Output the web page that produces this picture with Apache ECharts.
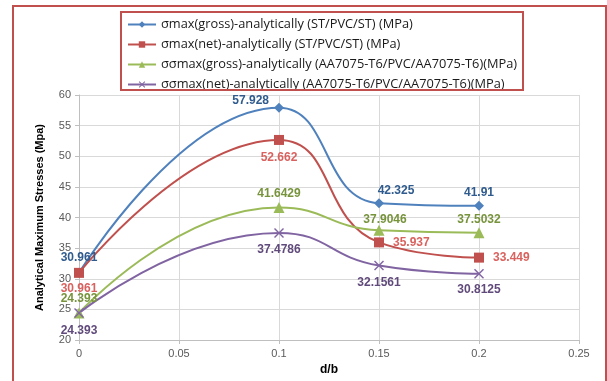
<!DOCTYPE html>
<html><head><meta charset="utf-8">
<script src="https://cdn.jsdelivr.net/npm/echarts@6/dist/echarts.min.js"></script>
<style>html,body{margin:0;padding:0;background:#fff}#c{width:607px;height:381px}</style>
</head><body><div id="c"></div>
<script>
const xValues = [0, 0.1, 0.15, 0.2];
const seriesNames = [
  'σmax(gross)-analytically (ST/PVC/ST) (MPa)',
  'σmax(net)-analytically (ST/PVC/ST) (MPa)',
  'σσmax(gross)-analytically (AA7075-T6/PVC/AA7075-T6)(MPa)',
  'σσmax(net)-analytically (AA7075-T6/PVC/AA7075-T6)(MPa)'
];
const grossST = [30.961, 57.928, 42.325, 41.91];
const netST = [30.961, 52.662, 35.937, 33.449];
const grossAA = [24.393, 41.6429, 37.9046, 37.5032];
const netAA = [24.393, 37.4786, 32.1561, 30.8125];
const labelTexts = [
  ['30.961', '57.928', '42.325', '41.91'],
  ['30.961', '52.662', '35.937', '33.449'],
  ['24.393', '41.6429', '37.9046', '37.5032'],
  ['24.393', '37.4786', '32.1561', '30.8125']
];
const yTicks = {min: 20, max: 60, interval: 5};
const xTicks = {min: 0, max: 0.25, interval: 0.05};

const lineColors = ['#4f81bd', '#c0504d', '#9bbb59', '#8064a2'];
const labelColors = ['#2f5b8e', '#d9625e', '#77933c', '#604a7b'];
const symbols = ['diamond', 'rect', 'triangle', 'path://M0,1L1,0L5,4L9,0L10,1L6,5L10,9L9,10L5,6L1,10L0,9L4,5Z'];
const symbolSizes = [10, 10, 11, 10];
const labelPlacements = [
  [{p:'top', o:[0,1]}, {p:'left', o:[0,-7]}, {p:'top', o:[17,3]}, {p:'top', o:[0,3]}],
  [{p:'bottom', o:[0,0]}, {p:'bottom', o:[0,2]}, {p:'right', o:[4,0]}, {p:'right', o:[4,0]}],
  [{p:'top', o:[0,2]}, {p:'top', o:[0,3]}, {p:'top', o:[6,6]}, {p:'top', o:[0,3]}],
  [{p:'bottom', o:[0,2]}, {p:'bottom', o:[0,1]}, {p:'bottom', o:[0,1]}, {p:'bottom', o:[0,0]}]
];
const allData = [grossST, netST, grossAA, netAA];

const series = allData.map((vals, si) => ({
  name: seriesNames[si],
  type: 'line',
  smooth: 0.5,
  symbol: symbols[si],
  symbolSize: symbolSizes[si],
  lineStyle: {color: lineColors[si], width: 2},
  itemStyle: {color: lineColors[si]},
  data: vals.map((v, i) => ({
    value: [xValues[i], v],
    label: {
      show: true,
      position: labelPlacements[si][i].p,
      offset: labelPlacements[si][i].o,
      formatter: labelTexts[si][i],
      color: labelColors[si],
      fontWeight: 'bold',
      fontSize: 12,
      fontFamily: 'Liberation Sans'
    }
  }))
}));

const chart = echarts.init(document.getElementById('c'), null, {renderer: 'canvas'});
chart.setOption({
  animation: false,
  backgroundColor: '#fff',
  grid: {left: 79, right: 28, top: 95, bottom: 41, containLabel: false},
  legend: {
    orient: 'vertical',
    left: 122, top: 11, padding: 5,
    itemWidth: 28, itemHeight: 8, itemGap: 3,
    textStyle: {fontSize: 12.8, lineHeight: 17, color: '#1a1a1a', fontFamily: 'Open Sans'},
    data: seriesNames
  },
  graphic: [
    {type: 'rect', shape: {x: 13, y: 6, width: 593, height: 400}, style: {fill: 'none', stroke: '#c0504d', lineWidth: 2}, silent: true, z: -1},
    {type: 'rect', shape: {x: 121, y: 12, width: 402, height: 78}, style: {fill: 'none', stroke: '#c0504d', lineWidth: 2}, silent: true, z: 10}
  ],
  xAxis: {
    type: 'value', min: xTicks.min, max: xTicks.max, interval: xTicks.interval,
    name: 'd/b', nameLocation: 'middle', nameGap: 24,
    nameTextStyle: {fontWeight: 'bold', fontSize: 12, color: '#000', fontFamily: 'Liberation Sans'},
    axisLine: {show: true, lineStyle: {color: '#bfbfbf'}},
    axisTick: {show: true, length: 4, lineStyle: {color: '#bfbfbf'}},
    axisLabel: {fontSize: 11, color: '#595959', margin: 8, fontFamily: 'Liberation Sans'},
    splitLine: {show: true, lineStyle: {color: '#d9d9d9'}}
  },
  yAxis: {
    type: 'value', min: yTicks.min, max: yTicks.max, interval: yTicks.interval,
    name: 'Analytical Maximum Stresses (Mpa)', nameLocation: 'middle', nameGap: 34,
    nameTextStyle: {fontWeight: 'bold', fontSize: 11, color: '#000', fontFamily: 'Liberation Sans'},
    axisLine: {show: true, lineStyle: {color: '#bfbfbf'}},
    axisTick: {show: true, length: 4, lineStyle: {color: '#bfbfbf'}},
    axisLabel: {fontSize: 11, color: '#595959', margin: 8, fontFamily: 'Liberation Sans'},
    splitLine: {show: true, lineStyle: {color: '#d9d9d9'}}
  },
  series: series
});
</script></body></html>
